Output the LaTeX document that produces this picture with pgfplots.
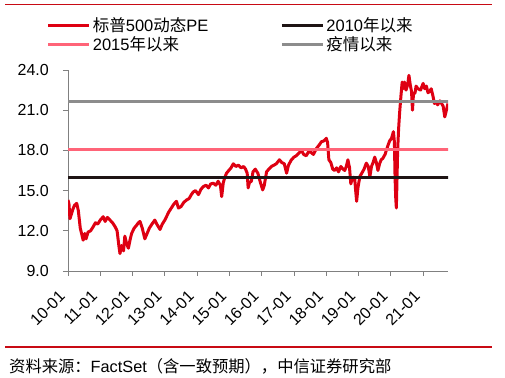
\documentclass[border=0pt]{standalone}
\usepackage{fontspec}
\setmainfont{Liberation Sans}
\newfontfamily\cjk{Noto Sans CJK SC}
\usepackage{pgfplots}
\pgfplotsset{compat=1.18}
\definecolor{pered}{RGB}{222,0,18}
\definecolor{lblack}{RGB}{30,20,20}
\definecolor{lpink}{RGB}{255,100,120}
\definecolor{lgray}{RGB}{140,140,140}
\definecolor{rulered}{RGB}{200,10,20}
\definecolor{axgray}{RGB}{128,128,128}
\begin{document}
\begin{tikzpicture}
\path[use as bounding box] (0pt,0pt) rectangle (505pt,377pt);
\draw[rulered, line width=1.2pt] (5pt,372.5pt) -- (492pt,372.5pt);
\draw[rulered, line width=1.2pt] (5pt,30pt) -- (492pt,30pt);
\node[anchor=west, inner sep=0pt, font=\fontsize{16.3}{19}\selectfont] at (9pt,11pt)
  {{\cjk 资料来源：}FactSet{\cjk （含一致预期），中信证券研究部}};
\begin{axis}[
  at={(68pt,106pt)}, anchor=south west,
  scale only axis, width=380pt, height=201pt,
  xmin=0, xmax=11.77, ymin=9, ymax=24,
  axis x line=bottom, axis y line=left,
  axis line style={-, axgray, line width=0.9pt},
  tick style={axgray, line width=0.9pt},
  tick align=outside, major tick length=5pt,
  xtick={0,1,...,11},
  xticklabels={10-01,11-01,12-01,13-01,14-01,15-01,16-01,17-01,18-01,19-01,20-01,21-01},
  ytick={9,12,15,18,21,24},
  ticklabel style={font=\fontsize{16}{19}\selectfont},
  xticklabel style={xshift=-10pt, yshift=-12pt, rotate=45, anchor=north east, inner sep=1pt},
  yticklabel style={inner sep=1pt, xshift=-13pt},
  /pgf/number format/.cd, fixed, fixed zerofill, precision=1, assume math mode=true,
  /pgfplots/.cd,
  legend columns=2,
  legend cell align=left,
  legend style={at={(axis description cs:-0.064,1.282)}, anchor=north west, draw=none, fill=none,
    font=\fontsize{16.5}{19}\selectfont, row sep=0pt,
    /tikz/every even column/.append style={column sep=70pt}},
  legend image code/.code={\draw[#1] (0pt,0pt) -- (41pt,0pt);},
]
\addplot[pered, line width=3pt, line join=round] coordinates {
(0.00,14.3) (0.03,14.0) (0.06,12.9) (0.10,13.2) (0.15,13.6) (0.20,13.9) (0.27,14.05) (0.32,13.5)
(0.38,12.2) (0.42,11.8) (0.47,11.3) (0.52,11.8) (0.56,11.4) (0.62,11.9) (0.70,12.0) (0.78,12.3)
(0.85,12.6) (0.92,12.5) (1.00,12.8) (1.09,13.05) (1.15,12.7) (1.22,13.0) (1.30,12.8) (1.38,12.6)
(1.46,12.3) (1.52,12.0) (1.58,10.8) (1.61,10.3) (1.66,10.9) (1.72,10.5) (1.76,11.6) (1.82,11.0)
(1.87,10.7) (1.92,11.3) (1.97,11.8) (2.05,12.2) (2.12,12.4) (2.18,12.6) (2.23,12.7) (2.30,12.2)
(2.38,11.4) (2.45,11.8) (2.52,12.2) (2.60,12.5) (2.69,12.8) (2.75,12.5) (2.85,12.1) (2.92,12.5)
(3.00,12.8) (3.05,13.05) (3.12,13.4) (3.20,13.7) (3.28,14.0) (3.36,14.2) (3.42,13.7) (3.50,13.8)
(3.58,14.1) (3.67,14.3) (3.75,14.4) (3.82,14.7) (3.88,14.9) (3.95,15.0) (4.04,14.7) (4.12,15.1)
(4.19,15.3) (4.28,15.4) (4.35,15.2) (4.42,15.5) (4.50,15.55) (4.58,15.4) (4.65,15.7) (4.72,15.4)
(4.76,14.55) (4.81,15.6) (4.86,16.0) (4.91,16.3) (4.98,16.5) (5.05,16.7) (5.12,17.0) (5.20,16.8)
(5.28,16.9) (5.36,16.7) (5.44,16.8) (5.50,16.6) (5.55,16.3) (5.58,15.2) (5.62,15.6) (5.68,15.7)
(5.73,16.4) (5.80,16.6) (5.88,16.3) (5.96,15.6) (6.03,15.05) (6.08,15.4) (6.15,16.4) (6.22,16.6)
(6.30,16.8) (6.38,16.9) (6.45,17.0) (6.55,17.3) (6.62,17.1) (6.70,17.0) (6.77,16.3) (6.83,16.9)
(6.92,17.3) (7.00,17.5) (7.07,17.6) (7.15,17.8) (7.23,18.0) (7.30,17.7) (7.38,17.6) (7.45,17.9)
(7.53,17.85) (7.60,17.7) (7.70,18.16) (7.78,18.4) (7.85,18.65) (7.92,18.7) (8.00,18.9) (8.04,18.6)
(8.08,17.3) (8.14,17.1) (8.20,16.6) (8.26,16.5) (8.32,16.7) (8.38,16.4) (8.45,16.8) (8.52,16.6)
(8.57,16.5) (8.62,16.8) (8.67,17.3) (8.72,16.7) (8.76,15.5) (8.80,15.9) (8.85,16.0) (8.88,15.9)
(8.91,15.0) (8.94,14.2) (8.98,15.2) (9.04,16.05) (9.10,16.3) (9.17,16.6) (9.24,17.05) (9.30,16.8)
(9.35,16.05) (9.40,16.8) (9.45,17.1) (9.50,17.5) (9.55,17.1) (9.60,16.5) (9.65,17.0) (9.70,17.3)
(9.75,17.4) (9.82,17.7) (9.90,18.3) (9.96,18.7) (10.02,18.9) (10.08,19.4) (10.11,18.6) (10.13,16.0)
(10.15,14.5) (10.17,13.7) (10.19,15.8) (10.21,18.0) (10.24,19.6) (10.27,20.77) (10.31,22.0) (10.35,23.1)
(10.38,22.6) (10.42,23.1) (10.47,22.5) (10.52,22.9) (10.56,23.6) (10.60,22.9) (10.64,22.4) (10.67,21.0)
(10.70,22.2) (10.75,22.3) (10.78,22.8) (10.84,22.6) (10.92,22.5) (11.00,23.0) (11.05,22.6) (11.10,22.8)
(11.15,22.3) (11.20,22.4) (11.25,22.6) (11.30,22.1) (11.35,21.5) (11.40,21.6) (11.45,21.4) (11.52,21.7)
(11.57,21.5) (11.62,21.3) (11.67,20.5) (11.72,21.0) (11.77,21.5)
};
\addlegendentry{{\cjk 标普}500{\cjk 动态}PE}
\addplot[lblack, line width=3pt] coordinates {(0,16.0) (11.8,16.0)};
\addlegendentry{2010{\cjk 年以来}}
\addplot[lpink, line width=3pt] coordinates {(0,18.1) (11.8,18.1)};
\addlegendentry{2015{\cjk 年以来}}
\addplot[lgray, line width=3pt] coordinates {(0,21.63) (11.8,21.63)};
\addlegendentry{{\cjk 疫情以来}}
\end{axis}
\end{tikzpicture}
\end{document}
